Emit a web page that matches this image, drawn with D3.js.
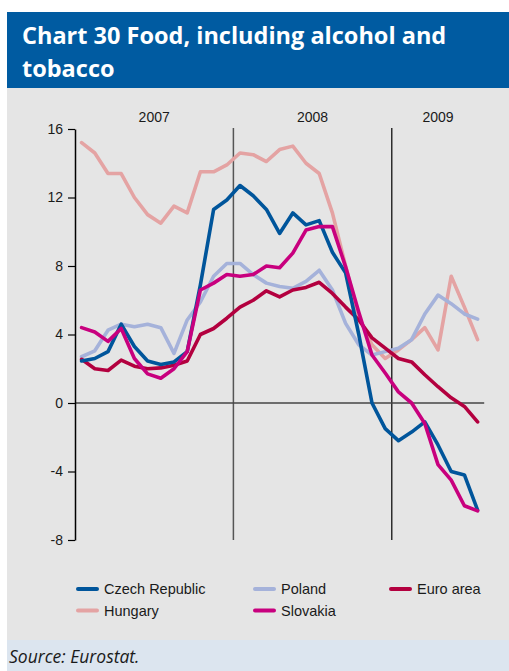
<!DOCTYPE html>
<html>
<head>
<meta charset="utf-8">
<script src="https://cdn.jsdelivr.net/npm/d3@7"></script>
<style>
  html, body { margin: 0; padding: 0; background: #ffffff; }
  svg { display: block; }
</style>
</head>
<body>
<svg id="chart" width="509" height="671"></svg>
<script>
// Monthly periods, January 2007 to July 2009
const months = d3.timeMonths(new Date(2007, 0, 1), new Date(2009, 7, 1));
const years = ["2007", "2008", "2009"];
const yTicks = [-8, -4, 0, 4, 8, 12, 16];

// Annual rates of change, per cent
const czechRepublic = [2.45, 2.6, 3.0, 4.6, 3.3, 2.45, 2.25, 2.4, 3.0, 6.9, 11.3, 11.85,
  12.7, 12.1, 11.3, 9.9, 11.1, 10.4, 10.65, 8.8, 7.6, 4.0, 0.0, -1.5,
  -2.2, -1.7, -1.1, -2.45, -4.0, -4.2, -6.25];
const hungary = [15.2, 14.6, 13.4, 13.4, 12.0, 11.0, 10.5, 11.5, 11.1, 13.5, 13.5, 13.9,
  14.6, 14.5, 14.1, 14.8, 15.0, 14.0, 13.4, 11.1, 8.0, 5.0, 3.4, 2.6,
  3.1, 3.7, 4.4, 3.1, 7.4, 5.6, 3.7];
const poland = [2.7, 3.05, 4.25, 4.6, 4.45, 4.6, 4.4, 2.9, 4.85, 5.9, 7.4, 8.15,
  8.15, 7.5, 7.0, 6.8, 6.7, 7.1, 7.75, 6.6, 4.65, 3.4, 2.8, 3.0,
  3.2, 3.7, 5.2, 6.3, 5.8, 5.2, 4.9];
const slovakia = [4.4, 4.15, 3.6, 4.35, 2.6, 1.7, 1.45, 2.0, 3.0, 6.6, 7.0, 7.5,
  7.4, 7.5, 8.0, 7.9, 8.75, 10.1, 10.3, 10.3, 7.95, 5.3, 2.8, 1.75,
  0.65, 0.0, -1.2, -3.6, -4.5, -6.0, -6.3];
const euroArea = [2.55, 2.0, 1.9, 2.5, 2.15, 2.0, 2.05, 2.2, 2.45, 4.0, 4.35, 4.95,
  5.6, 6.0, 6.55, 6.2, 6.6, 6.75, 7.05, 6.4, 5.6, 4.85, 3.8, 3.2,
  2.6, 2.4, 1.65, 0.95, 0.3, -0.2, -1.1];

const seriesNames = ["Czech Republic", "Hungary", "Poland", "Slovakia", "Euro area"];
const seriesColors = ["#00559b", "#e4a3a3", "#a5b2da", "#c8007e", "#b3003f"];

const series = [
  { name: seriesNames[0], color: seriesColors[0], values: czechRepublic },
  { name: seriesNames[1], color: seriesColors[1], values: hungary },
  { name: seriesNames[2], color: seriesColors[2], values: poland },
  { name: seriesNames[3], color: seriesColors[3], values: slovakia },
  { name: seriesNames[4], color: seriesColors[4], values: euroArea }
];

const svg = d3.select("#chart");
const W = 509, H = 671;
const font = "'Liberation Sans', Arial, sans-serif";

// Panels: title band, plot background, source band
svg.append("rect").attr("x", 7).attr("y", 12).attr("width", W - 7).attr("height", 76).attr("fill", "#005ba1");
svg.append("rect").attr("x", 7).attr("y", 88).attr("width", W - 7).attr("height", 552).attr("fill", "#e5e5e5");
svg.append("rect").attr("x", 7).attr("y", 640).attr("width", W - 7).attr("height", 31).attr("fill", "#dce5ef");

const title = svg.append("text")
  .attr("fill", "#ffffff")
  .attr("font-family", "'Open Sans', 'Noto Sans', sans-serif")
  .attr("font-weight", 700)
  .attr("font-size", 23.5);
title.append("tspan").attr("x", 22).attr("y", 44).text("Chart 30 Food, including alcohol and");
title.append("tspan").attr("x", 22).attr("y", 77).text("tobacco");

svg.append("text")
  .attr("x", 9).attr("y", 663)
  .attr("font-family", "'Open Sans', 'Noto Sans', sans-serif")
  .attr("font-style", "italic")
  .attr("font-size", 17.5)
  .attr("fill", "#1a1a1a")
  .text("Source: Eurostat.");

// Scales
const x = d3.scaleBand().domain(months).range([75, 484.2]).padding(0);
const y = d3.scaleLinear().domain([-8, 16]).range([540, 129]);
const cx = d => x(d) + x.bandwidth() / 2;

// Year separators and labels
const yearStart = years.map(yr => months.find(m => m.getFullYear() === +yr));
const yearEnd = years.map(yr => {
  const ms = months.filter(m => m.getFullYear() === +yr);
  return x(ms[ms.length - 1]) + x.bandwidth();
});

svg.selectAll(".sep")
  .data(years.slice(1))
  .join("line")
  .attr("x1", (d, i) => x(yearStart[i + 1]))
  .attr("x2", (d, i) => x(yearStart[i + 1]))
  .attr("y1", y(16) - 1)
  .attr("y2", y(-8))
  .attr("stroke", (d, i) => i === 0 ? "#555555" : "#000000")
  .attr("stroke-width", (d, i) => i === 0 ? 1.5 : 1.2);

svg.selectAll(".year")
  .data(years)
  .join("text")
  .attr("x", (d, i) => (x(yearStart[i]) + yearEnd[i]) / 2)
  .attr("y", 122)
  .attr("text-anchor", "middle")
  .attr("font-family", font)
  .attr("font-size", 14)
  .attr("fill", "#1a1a1a")
  .text(d => d);

// Zero line
svg.append("line")
  .attr("x1", 75).attr("x2", x.range()[1])
  .attr("y1", y(0)).attr("y2", y(0))
  .attr("stroke", "#444444").attr("stroke-width", 1.5);

// Y axis
const yAxis = svg.append("g")
  .attr("transform", "translate(75,0)")
  .call(d3.axisLeft(y).tickValues(yTicks).tickFormat(d => String(d))
    .tickSize(7).tickSizeOuter(0).tickPadding(5));
yAxis.select(".domain").attr("stroke", "#000000").attr("stroke-width", 1.5);
yAxis.selectAll(".tick line").attr("stroke", "#000000").attr("stroke-width", 1.2);
yAxis.selectAll(".tick text")
  .attr("font-family", font)
  .attr("font-size", 14)
  .attr("fill", "#1a1a1a");

// Series lines
const line = d3.line()
  .x((d, i) => cx(months[i]))
  .y(d => y(d))
  .curve(d3.curveLinear);

const drawOrder = [1, 2, 4, 0, 3];
svg.selectAll(".series")
  .data(drawOrder.map(i => series[i]))
  .join("path")
  .attr("fill", "none")
  .attr("stroke", d => d.color)
  .attr("stroke-width", 3.6)
  .attr("stroke-linejoin", "round")
  .attr("stroke-linecap", "round")
  .attr("d", d => line(d.values));

// Legend
const legendPos = [
  { s: 0, x: 78, y: 589 },
  { s: 2, x: 255, y: 589 },
  { s: 4, x: 391, y: 589 },
  { s: 1, x: 78, y: 610.5 },
  { s: 3, x: 255, y: 610.5 }
];
const lg = svg.selectAll(".legend")
  .data(legendPos)
  .join("g")
  .attr("transform", d => `translate(${d.x},${d.y})`);
lg.append("line")
  .attr("x1", 0).attr("x2", 19).attr("y1", 0).attr("y2", 0)
  .attr("stroke", d => series[d.s].color)
  .attr("stroke-width", 4)
  .attr("stroke-linecap", "round");
lg.append("text")
  .attr("x", 26).attr("y", 5)
  .attr("font-family", font)
  .attr("font-size", 14.5)
  .attr("fill", "#1a1a1a")
  .text(d => series[d.s].name);
</script>
</body>
</html>
